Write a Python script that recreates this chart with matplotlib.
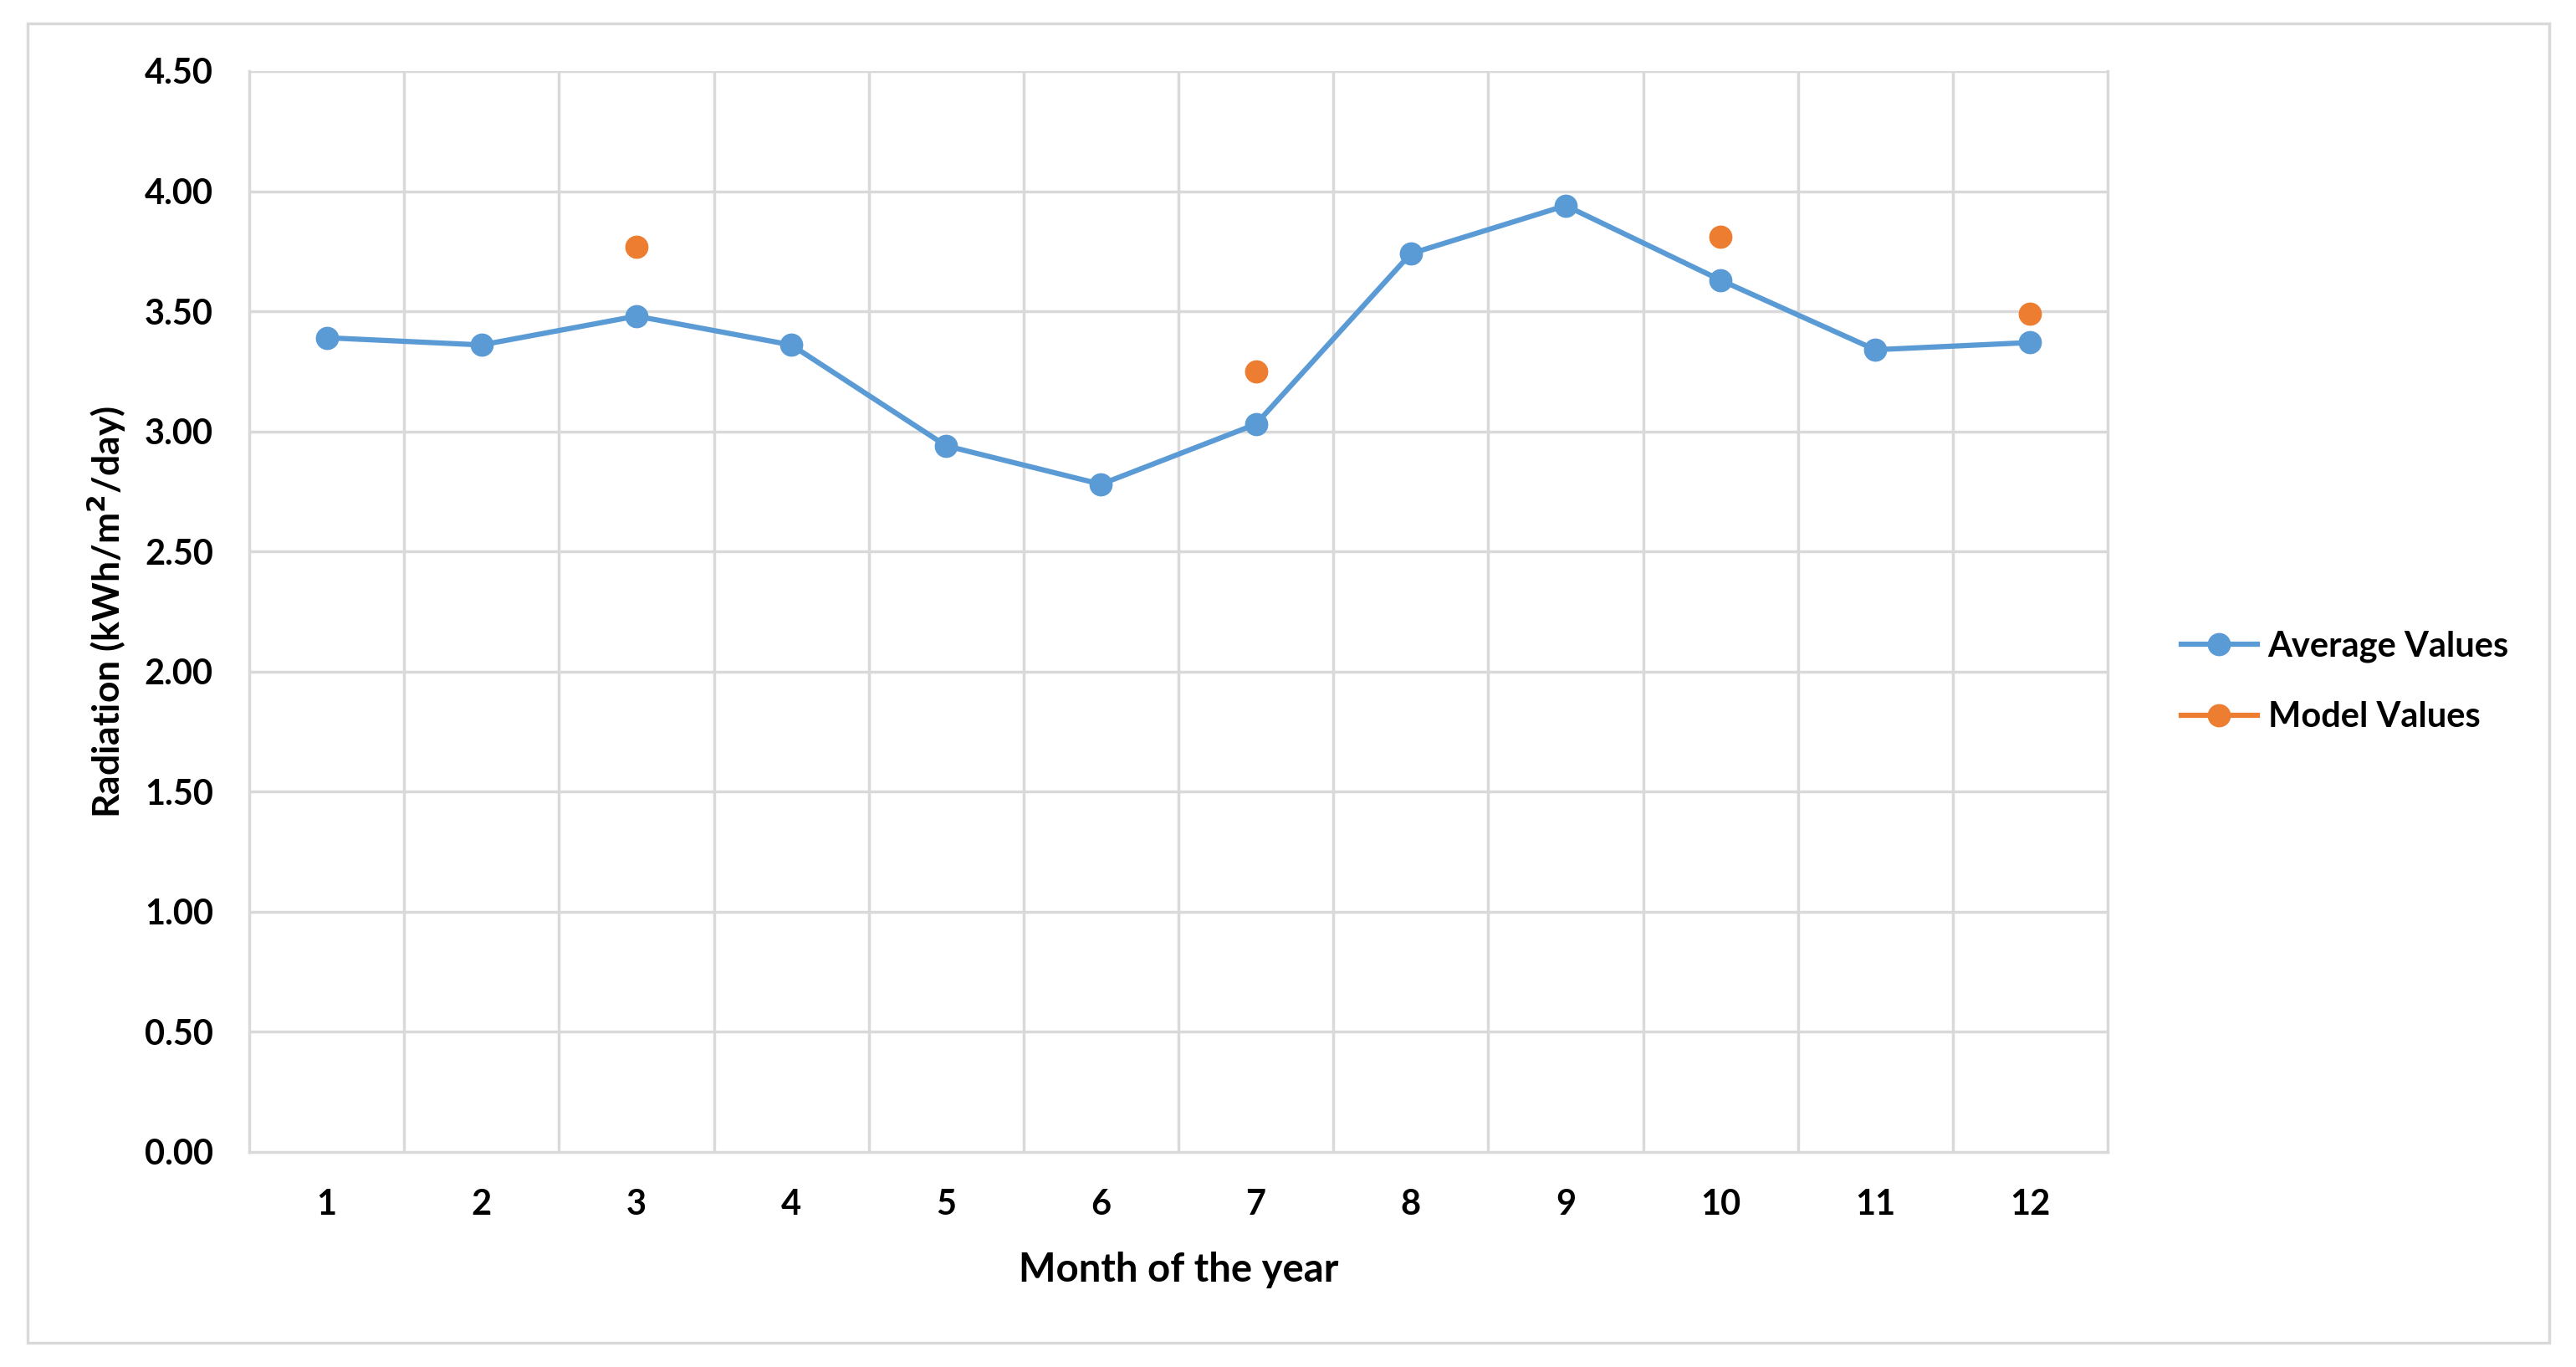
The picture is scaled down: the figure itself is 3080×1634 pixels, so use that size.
import numpy as np
from matplotlib import pyplot as plt
from matplotlib.patches import Rectangle

# Data
months = [1, 2, 3, 4, 5, 6, 7, 8, 9, 10, 11, 12]
average_values = [3.39, 3.36, 3.48, 3.36, 2.94, 2.78, 3.03, 3.74, 3.94, 3.63, 3.34, 3.37]
model_months = [3, 7, 10, 12]
model_values = [3.77, 3.25, 3.81, 3.49]
y_ticks = [0.0, 0.5, 1.0, 1.5, 2.0, 2.5, 3.0, 3.5, 4.0, 4.5]

blue = '#5B9BD5'
orange = '#ED7D31'
grid_col = '#D9D9D9'

plt.rcParams['font.family'] = ['Lato', 'DejaVu Sans']
plt.rcParams['font.weight'] = 'bold'

fig = plt.figure(figsize=(30.8, 16.34), dpi=100)
# outer chart border
fig.patches.append(Rectangle((33 / 3080, 1 - 1605 / 1634), (3048 - 33) / 3080, (1605 - 28) / 1634,
                             transform=fig.transFigure, fill=False, edgecolor=grid_col, linewidth=2.5))

ax = fig.add_axes([298 / 3080, 1 - 1377 / 1634, (2520 - 298) / 3080, (1377 - 85) / 1634])

ax.plot(months, average_values, color=blue, linewidth=4.5, marker='o', markersize=19,
        label='Average Values', zorder=3)
ax.plot(model_months, model_values, color=orange, linewidth=0, marker='o', markersize=19,
        label='Model Values', zorder=4)

ax.set_xlim(0.5, 12.5)
ax.set_ylim(0, 4.5)
ax.set_yticks(y_ticks)
ax.set_yticklabels(['%.2f' % v for v in y_ticks])
ax.set_xticks(months)
ax.set_xticklabels([str(m) for m in months])

# Excel-style gridlines: horizontal at ticks, vertical between categories
for v in y_ticks[1:]:
    ax.axhline(v, color=grid_col, linewidth=2.5, zorder=1)
for b in np.arange(1.5, 12.5, 1):
    ax.axvline(b, color=grid_col, linewidth=2.5, zorder=1)

ax.spines['top'].set_visible(False)
for side in ['right', 'left', 'bottom']:
    ax.spines[side].set_color(grid_col)
    ax.spines[side].set_linewidth(2.5)
ax.tick_params(axis='both', length=0, labelsize=30, colors='black')
ax.tick_params(axis='y', pad=31)
ax.tick_params(axis='x', pad=32)
for lbl in ax.get_xticklabels() + ax.get_yticklabels():
    lbl.set_fontweight('bold')

ax.set_xlabel('Month of the year', fontsize=34, fontweight='bold', labelpad=26)
ax.set_ylabel('Radiation (kWh/m$^\\mathbf{2}$/day)', fontsize=32, fontweight='bold', labelpad=14)

leg_lines = [plt.Line2D([0], [0], color=blue, linewidth=4.5, marker='o', markersize=19),
             plt.Line2D([0], [0], color=orange, linewidth=4.5, marker='o', markersize=19)]
fig.legend(leg_lines, ['Average Values', 'Model Values'], loc='center left',
           bbox_to_anchor=(2570 / 3080, 1 - 815 / 1634), frameon=False,
           prop={'size': 30, 'weight': 'bold'}, handlelength=2.2, labelspacing=1.1,
           handletextpad=0.3)

fig.savefig('out.png', dpi=100)
